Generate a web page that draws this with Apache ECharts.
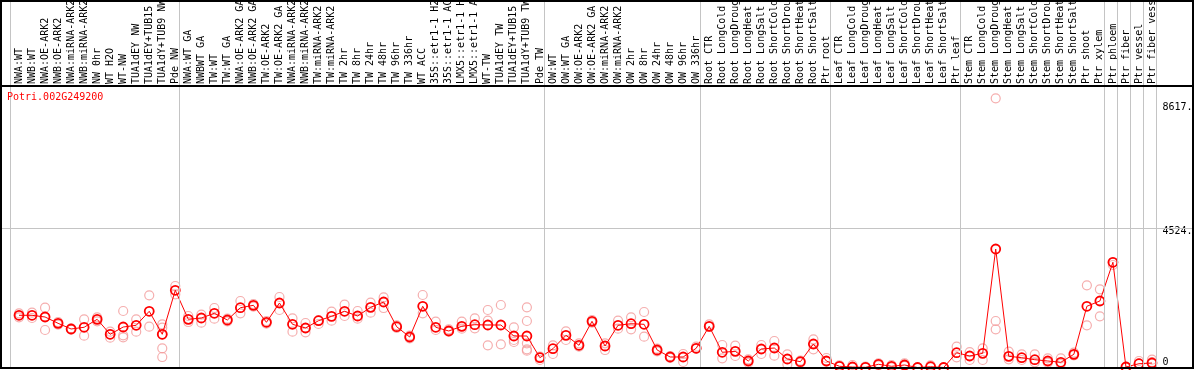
<!DOCTYPE html>
<html>
<head>
<meta charset="utf-8">
<script src="https://cdn.jsdelivr.net/npm/echarts@6/dist/echarts.min.js"></script>
<style>
html,body{margin:0;padding:0;background:#fff;}
#chart{width:1194px;height:370px;}
</style>
</head>
<body>
<div id="chart"></div>
<script>
// ---------------- data ----------------
const chartTitle = 'Potri.002G249200';

const categories = [
  'NWA:WT','NWB:WT','NWA:OE-ARK2','NWB:OE-ARK2','NWA:miRNA-ARK2','NWB:miRNA-ARK2','NW 0hr','WT H2O','WT-NW','TUA1dEY NW',
  'TUA1dEY+TUB15','TUA1dY+TUB9 NW','Pde NW','NWA:WT GA','NWBWT GA','TW:WT','TW:WT GA','NWA:OE-ARK2 GA','NWB:OE-ARK2 GA','TW:OE-ARK2',
  'TW:OE-ARK2 GA','NWA:miRNA-ARK2 ','NWB:miRNA-ARK2 ','TW:miRNA-ARK2','TW:miRNA-ARK2 ','TW 2hr','TW 8hr','TW 24hr','TW 48hr','TW 96hr',
  'TW 336hr','WT ACC','35S::etr1-1 H2','35S::etr1-1 AC','LMX5::etr1-1 H','LMX5::etr1-1 A','WT-TW','TUA1dEY TW','TUA1dEY+TUB15 ','TUA1dY+TUB9 TW',
  'Pde TW','OW:WT','OW:WT GA','OW:OE-ARK2','OW:OE-ARK2 GA','OW:miRNA-ARK2','OW:miRNA-ARK2 ','OW 2hr','OW 8hr','OW 24hr',
  'OW 48hr','OW 96hr','OW 336hr','Root CTR','Root LongCold','Root LongDroug','Root LongHeat','Root LongSalt','Root ShortCold','Root ShortDrou',
  'Root ShortHeat','Root ShortSalt','Ptr root','Leaf CTR','Leaf LongCold','Leaf LongDroug','Leaf LongHeat','Leaf LongSalt','Leaf ShortCold','Leaf ShortDrou',
  'Leaf ShortHeat','Leaf ShortSalt','Ptr leaf','Stem CTR','Stem LongCold','Stem LongDroug','Stem LongHeat','Stem LongSalt','Stem ShortCold','Stem ShortDrou',
  'Stem ShortHeat','Stem ShortSalt','Ptr shoot','Ptr xylem','Ptr phloem','Ptr fiber','Ptr vessel','Ptr fiber vess'
];

const meanValues = [
  1693,1693,1638,1433,1249,1304,1563,1077,1313,1369,
  1823,1077,2504,1563,1605,1758,1540,1939,2017,1466,
  2092,1401,1281,1518,1660,1823,1670,1952,2124,1323,
  989,1985,1304,1184,1336,1388,1378,1378,1022,1022,
  318,610,1044,720,1498,697,1369,1420,1401,568,
  341,341,623,1336,493,525,211,600,632,276,
  188,762,211,39,16,6,104,39,81,0,
  26,0,480,373,460,3843,363,318,253,211,
  169,428,1985,2157,3412,16,123,146
];

const replicateValues = [
  [1756,1627],[1778,1605],[1940,1638,1216],[1475,1389],[1270,1227],[1562,1032],[1627,1497],[1162,1075,967],[1832,978,1043],[1562,1162],
  [2340,1324],[1400,1292,1075,621,340],[2643,2373],[1670,1475],[1713,1454],[1929,1583],[1583,1497],[2157,1756],[2059,1973],[1508,1421],
  [2286,1865],[1594,1162],[1443,1140],[1540,1411],[1811,1519],[2038,1670],[1832,1583],[2102,1778],[2275,1929],[1367,1281],
  [1032,946],[2351,1756],[1486,1216],[1238,1162],[1486,1259],[1594,1270],[1865,1519,719],[2027,751],[1302,892,827],[1951,1508,784,589,546],
  [351,243],[719,438],[1173,892],[784,675],[1540,1454],[784,567],[1519,1259],[1627,1238],[1800,1000],[611,524],
  [373,308],[438,178],[675,611],[1400,1313],[730,297],[708,373],[265,157],[730,438],[859,384],[427,103],
  [222,157],[913,589],[308,189],[70,27],[81,5],[27,0],[135,70],[81,5],[135,49],[5,0],
  [70,5],[5,0],[675,330],[502,243],[621,243],[8730,1508,1238],[513,265],[427,243],[427,167],[297,157],
  [297,113],[481,395],[2665,1367],[2535,1659],[3410,3324],[27,0],[211,135],[254,178]
];

// group boundaries (category index where a new group starts)
const groupBoundaries = [0,13,41,53,63,73,84,85,86,87,88];

const yTickValues = [0, 4524, 8617];
const yTickLabels = ['0', '4524.', '8617.'];
const yGridValue = 4524;

// ---------------- layout ----------------
const W = 1194, H = 370;
const plotTop = 86, plotBottom = 368;
const gridALeft = 12.5, gridAWidth = 1146;
const band = gridAWidth / categories.length;
const sepOrigin = 10;              // pixel x of boundary 0
const gridBLeft = 1, gridBTop = 1, gridBWidth = 1192, gridBHeight = plotBottom - 1;
const yMin = -16, yMax = 9129;
const yMaxB = yMin + (yMax - yMin) * (gridBHeight / (plotBottom - plotTop));
const xMinB = (gridBLeft - sepOrigin) / band;
const xMaxB = xMinB + gridBWidth / band;

const MONO = 'DejaVu Sans Mono';

const scatterData = [];
replicateValues.forEach((arr, i) => arr.forEach(v => scatterData.push([i, v])));

const chart = echarts.init(document.getElementById('chart'), null, {renderer: 'canvas'});

const richYLabel = {
  b: {padding: [0, 0, 11, 0], fontFamily: MONO, fontSize: 10, color: '#000'},
  m: {padding: [6, 0, 0, 0], fontFamily: MONO, fontSize: 10, color: '#000'},
  t: {padding: [12, 0, 0, 0], fontFamily: MONO, fontSize: 10, color: '#000'}
};

const option = {
  animation: false,
  backgroundColor: '#fff',
  title: {
    text: chartTitle,
    left: 7, top: 92, padding: 0,
    textStyle: {color: '#ff0000', fontFamily: MONO, fontSize: 10, fontWeight: 'normal'}
  },
  grid: [
    {left: gridALeft, top: plotTop, width: gridAWidth, height: plotBottom - plotTop,
     containLabel: false, outerBoundsMode: 'none'},
    {left: gridBLeft, top: gridBTop, width: gridBWidth, height: gridBHeight,
     containLabel: false, outerBoundsMode: 'none'}
  ],
  xAxis: [
    {
      type: 'category', gridIndex: 0, position: 'top', data: categories, boundaryGap: true,
      axisLine: {show: false}, axisTick: {show: false}, splitLine: {show: false},
      axisLabel: {interval: 0, rotate: 90, margin: 2, fontFamily: MONO, fontSize: 10, color: '#000'}
    },
    {
      type: 'value', gridIndex: 1, min: xMinB, max: xMaxB, show: false,
      splitLine: {show: false}
    }
  ],
  yAxis: [
    {
      type: 'value', gridIndex: 0, position: 'right', min: yMin, max: yMax,
      axisLine: {show: false}, axisTick: {show: false}, splitLine: {show: false},
      axisLabel: {
        customValues: yTickValues,
        margin: 4,
        align: 'left',
        formatter: function (v) {
          let best = 0;
          yTickValues.forEach((t, i) => { if (Math.abs(t - v) < Math.abs(yTickValues[best] - v)) best = i; });
          const key = ['b', 'm', 't'][best];
          return '{' + key + '|' + yTickLabels[best] + '}';
        },
        rich: richYLabel
      }
    },
    {
      type: 'value', gridIndex: 1, min: yMin, max: yMaxB, show: false, splitLine: {show: false}
    }
  ],
  graphic: [
    {type: 'rect', z: 100, silent: true,
     shape: {x: 1, y: 1, width: 1192, height: 367},
     style: {fill: null, stroke: '#000', lineWidth: 2}},
    {type: 'line', z: 100, silent: true,
     shape: {x1: 0, y1: plotTop, x2: W, y2: plotTop},
     style: {stroke: '#000', lineWidth: 2}}
  ],
  series: [
    {
      type: 'line', xAxisIndex: 1, yAxisIndex: 1, data: [], z: 1, silent: true,
      markLine: {
        silent: true, symbol: 'none', animation: false,
        label: {show: false},
        lineStyle: {color: '#c4c4c4', width: 1, type: 'solid'},
        emphasis: {disabled: true},
        data: groupBoundaries.map(k => ({xAxis: k})).concat([{yAxis: yGridValue}])
      }
    },
    {
      type: 'scatter', xAxisIndex: 0, yAxisIndex: 0, data: scatterData, z: 2,
      symbol: 'circle', symbolSize: 9, silent: true,
      itemStyle: {color: 'rgba(0,0,0,0)', borderColor: '#f29a9a', borderWidth: 1.2}
    },
    {
      type: 'line', xAxisIndex: 0, yAxisIndex: 0, data: meanValues, z: 3,
      symbol: 'circle', symbolSize: 9, showAllSymbol: true, silent: true,
      lineStyle: {color: '#ff0000', width: 1},
      itemStyle: {color: 'rgba(0,0,0,0)', borderColor: '#ff0000', borderWidth: 1.8}
    }
  ]
};

chart.setOption(option);
</script>
</body>
</html>
